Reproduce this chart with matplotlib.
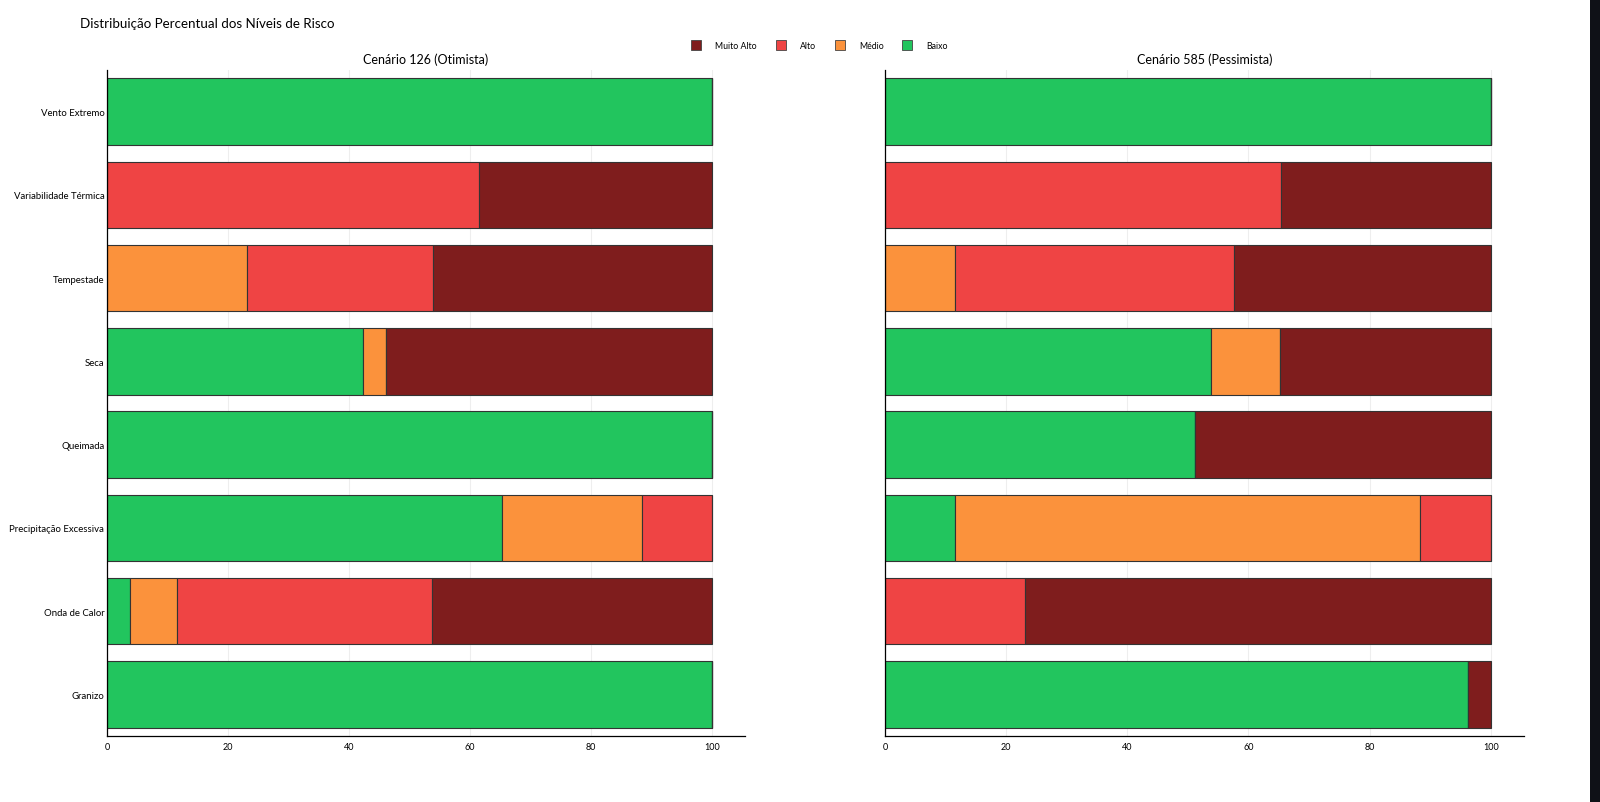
import matplotlib.pyplot as plt
import numpy as np
from matplotlib.patches import Rectangle
from matplotlib.lines import Line2D

plt.rcParams['font.family'] = ['Lato', 'DejaVu Sans']

# categories, top to bottom
riscos = ['Vento Extremo', 'Variabilidade Térmica', 'Tempestade', 'Seca',
          'Queimada', 'Precipitação Excessiva', 'Onda de Calor', 'Granizo']
niveis = ['Baixo', 'Médio', 'Alto', 'Muito Alto']
cores = {'Muito Alto': '#7f1d1d', 'Alto': '#ef4444',
         'Médio': '#fb923c', 'Baixo': '#22c55e'}

# percentages per level, same order as riscos
otim_baixo = [100, 0, 0, 42.3, 100, 65.4, 3.8, 100]
otim_medio = [0, 0, 23.1, 3.8, 0, 23.1, 7.7, 0]
otim_alto = [0, 61.5, 30.8, 0, 0, 11.5, 42.3, 0]
otim_muito = [0, 38.5, 46.1, 53.9, 0, 0, 46.2, 0]

pess_baixo = [100, 0, 0, 53.8, 51.2, 11.5, 0, 96.2]
pess_medio = [0, 0, 11.5, 11.5, 0, 76.9, 0, 0]
pess_alto = [0, 65.4, 46.2, 0, 0, 11.6, 23.1, 0]
pess_muito = [0, 34.6, 42.3, 34.7, 48.8, 0, 76.9, 3.8]

cenarios = [
    ('Cenário 126 (Otimista)', [otim_baixo, otim_medio, otim_alto, otim_muito]),
    ('Cenário 585 (Pessimista)', [pess_baixo, pess_medio, pess_alto, pess_muito]),
]

fig = plt.figure(figsize=(16, 8.03), dpi=100)
posicoes = [[0.0669, 0.0822, 0.3987, 0.8294], [0.5531, 0.0822, 0.3994, 0.8294]]

y = np.arange(len(riscos))
for i, (titulo, series) in enumerate(cenarios):
    ax = fig.add_axes(posicoes[i])
    left = np.zeros(len(riscos))
    for nivel, vals in zip(niveis, series):
        vals = np.array(vals, dtype=float)
        ax.barh(y, vals, left=left, height=0.8, color=cores[nivel],
                edgecolor='#333333', linewidth=0.8, zorder=2)
        left += vals
    ax.set_xlim(0, 105.5)
    ax.set_ylim(7.5, -0.5)
    ax.set_xticks([0, 20, 40, 60, 80, 100])
    ax.set_yticks(y)
    if i == 0:
        ax.set_yticklabels(riscos, fontsize=6.9)
    else:
        ax.set_yticklabels([])
    ax.tick_params(axis='y', length=0, pad=2)
    ax.tick_params(axis='x', length=0, pad=4, labelsize=6.5)
    ax.grid(axis='x', color='#eeeeee', linewidth=0.8, zorder=0)
    for s in ['top', 'right']:
        ax.spines[s].set_visible(False)
    for s in ['left', 'bottom']:
        ax.spines[s].set_linewidth(0.9)
        ax.spines[s].set_color('black')
    ax.set_title(titulo, fontsize=9, pad=5)

fig.text(0.05, 0.978, 'Distribuição Percentual dos Níveis de Risco',
         fontsize=9.6, va='top', ha='left')

handles = [Line2D([0], [0], marker='s', linestyle='none', markersize=7,
                  markerfacecolor=cores[n], markeredgecolor='#444444',
                  markeredgewidth=0.6) for n in ['Muito Alto', 'Alto', 'Médio', 'Baixo']]
fig.legend(handles, ['Muito Alto', 'Alto', 'Médio', 'Baixo'], loc='center',
           bbox_to_anchor=(0.511, 0.942), ncol=4, frameon=False, fontsize=6.3,
           columnspacing=1.7, handletextpad=1.2)

fig.patches.append(Rectangle((0.9935, 0), 0.0065, 1, transform=fig.transFigure,
                             facecolor='#0f1117', edgecolor='none'))

fig.savefig('out.png', dpi=100)
